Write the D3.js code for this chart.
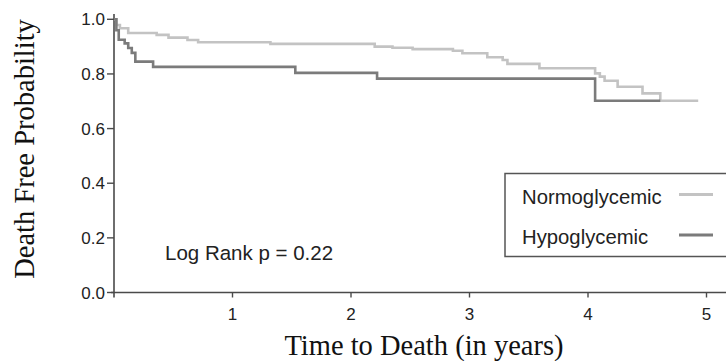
<!DOCTYPE html>
<html>
<head>
<meta charset="utf-8">
<script src="https://cdn.jsdelivr.net/npm/d3@7"></script>
<style>
  html, body { margin: 0; padding: 0; background: #fff; }
  svg { display: block; }
</style>
</head>
<body>
<svg id="chart"></svg>
<script>
// Kaplan-Meier steps (time in years, survival prob)
const normoTimes = [0, 0.02, 0.05, 0.12, 0.36, 0.46, 0.62, 0.71, 1.32, 2.20, 2.35, 2.52, 2.86, 2.94, 3.15, 3.28, 3.32, 3.59, 4.06, 4.10, 4.14, 4.25, 4.46, 4.61, 4.93];
const normoSurv  = [1.0, 0.979, 0.967, 0.950, 0.943, 0.933, 0.924, 0.916, 0.910, 0.900, 0.896, 0.891, 0.885, 0.876, 0.861, 0.851, 0.837, 0.821, 0.802, 0.790, 0.775, 0.753, 0.729, 0.702, 0.702];

const hypoTimes = [0, 0.02, 0.04, 0.09, 0.12, 0.15, 0.18, 0.33, 1.53, 2.22, 4.06, 4.61];
const hypoSurv  = [1.0, 0.96, 0.925, 0.912, 0.895, 0.877, 0.845, 0.826, 0.804, 0.783, 0.702, 0.702];

const yTicks = [0, 0.2, 0.4, 0.6, 0.8, 1.0];
const xTicks = [1, 2, 3, 4, 5];

const seriesNames = ["Normoglycemic", "Hypoglycemic"];
const seriesColors = ["#c3c3c3", "#7b7b7b"];

const width = 726;
const height = 361;
const axisColor = "#4a4a4a";
const sans = "'Liberation Sans', Arial, sans-serif";
const serif = "'Liberation Serif', 'Times New Roman', serif";

const svg = d3.select("#chart").attr("width", width).attr("height", height);

const x = d3.scaleLinear().domain([0, 5]).range([114, 706.5]);
const y = d3.scaleLinear().domain([0, 1]).range([292.5, 19.3]);

// axes lines
svg.append("line")
  .attr("x1", 111).attr("x2", width)
  .attr("y1", y(0)).attr("y2", y(0))
  .attr("stroke", axisColor).attr("stroke-width", 1.6);
svg.append("line")
  .attr("x1", x(0)).attr("x2", x(0))
  .attr("y1", 14).attr("y2", y(0) + 5)
  .attr("stroke", axisColor).attr("stroke-width", 1.6);

// y ticks
const yTickG = svg.append("g")
  .selectAll("g")
  .data(yTicks)
  .join("g")
  .attr("transform", (d) => `translate(0,${y(d)})`);
yTickG.append("line")
  .attr("x1", x(0) - 7).attr("x2", x(0))
  .attr("stroke", axisColor).attr("stroke-width", 1.4);
yTickG.append("text")
  .attr("x", 105)
  .attr("dy", "0.36em")
  .attr("text-anchor", "end")
  .attr("font-family", sans)
  .attr("font-size", 17)
  .attr("fill", "#222")
  .text((d) => d.toFixed(1));

// x ticks
const xTickG = svg.append("g")
  .selectAll("g")
  .data(xTicks)
  .join("g")
  .attr("transform", (d) => `translate(${x(d)},${y(0)})`);
xTickG.append("line")
  .attr("y1", 0).attr("y2", 5)
  .attr("stroke", axisColor).attr("stroke-width", 1.4);
xTickG.append("text")
  .attr("y", 27)
  .attr("text-anchor", "middle")
  .attr("font-family", sans)
  .attr("font-size", 17)
  .attr("fill", "#222")
  .text((d) => d);

// titles
svg.append("text")
  .attr("x", 424).attr("y", 355)
  .attr("text-anchor", "middle")
  .attr("font-family", serif)
  .attr("font-size", 28.5)
  .attr("fill", "#111")
  .text("Time to Death (in years)");

svg.append("text")
  .attr("transform", "translate(34,149) rotate(-90)")
  .attr("text-anchor", "middle")
  .attr("font-family", serif)
  .attr("font-size", 28.5)
  .attr("fill", "#111")
  .text("Death Free Probability");

// survival curves
const line = d3.line()
  .x((d) => x(d[0]))
  .y((d) => y(d[1]))
  .curve(d3.curveStepAfter);

const curves = [
  d3.zip(normoTimes, normoSurv),
  d3.zip(hypoTimes, hypoSurv),
];

svg.append("g")
  .selectAll("path")
  .data(curves)
  .join("path")
  .attr("d", line)
  .attr("fill", "none")
  .attr("stroke", (d, i) => seriesColors[i])
  .attr("stroke-width", 2.6);

// log rank annotation
svg.append("text")
  .attr("x", 165).attr("y", 260)
  .attr("font-family", sans)
  .attr("font-size", 20.5)
  .attr("fill", "#222")
  .text("Log Rank p = 0.22");

// legend
const legend = svg.append("g");
legend.append("rect")
  .attr("x", 505).attr("y", 173.5)
  .attr("width", 240).attr("height", 83)
  .attr("fill", "#fff")
  .attr("stroke", "#555").attr("stroke-width", 1.5);

const legendRows = legend.selectAll("g")
  .data(seriesNames)
  .join("g")
  .attr("transform", (d, i) => `translate(0,${i === 0 ? 194.5 : 235})`);
legendRows.append("text")
  .attr("x", 522)
  .attr("y", 9)
  .attr("font-family", sans)
  .attr("font-size", 20.3)
  .attr("fill", "#222")
  .text((d) => d);
legendRows.append("line")
  .attr("x1", 679).attr("x2", 713)
  .attr("stroke", (d, i) => seriesColors[i])
  .attr("stroke-width", 3);
</script>
</body>
</html>
